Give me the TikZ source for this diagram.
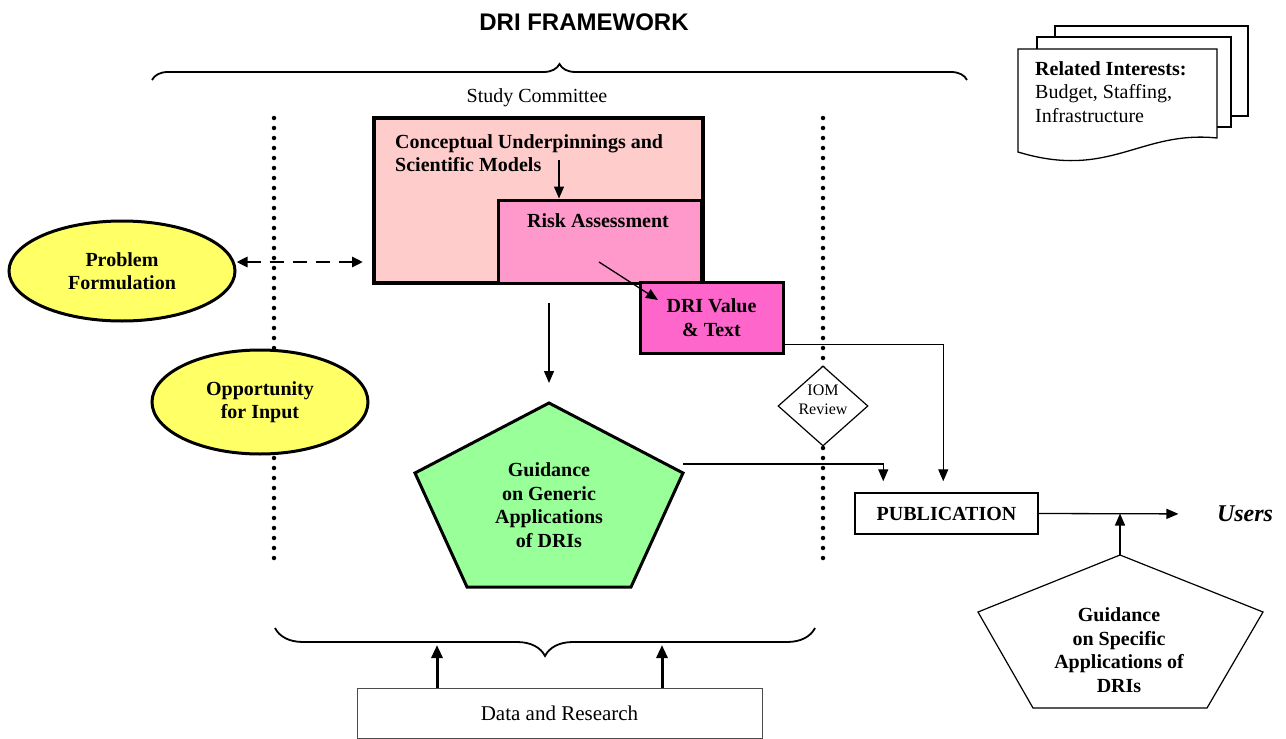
\documentclass[tikz,border=0pt]{standalone}
\usepackage{fontspec}
\setmainfont{Liberation Serif}
\newfontfamily\headfont{Liberation Sans}
\usetikzlibrary{arrows.meta}
\usetikzlibrary{shapes.geometric}
\usetikzlibrary{decorations.pathreplacing}
\usetikzlibrary{calc}

\definecolor{conceptpink}{RGB}{255,204,204}
\definecolor{riskpink}{RGB}{255,153,204}
\definecolor{dripink}{RGB}{255,102,204}
\definecolor{guidegreen}{RGB}{153,255,153}
\definecolor{probyellow}{RGB}{255,255,102}

\begin{document}
\begin{tikzpicture}[x=1pt,y=-1pt,
    lbl/.style={font=\fontsize{20}{23.5}\selectfont\bfseries, align=center, inner sep=0pt},
    box/.style={draw, line width=3pt, inner sep=0pt},
    arr/.style={-{Triangle[length=12pt,width=10pt]}, line width=1.3pt},
    thickarr/.style={-{Triangle[length=13pt,width=11pt]}, line width=3pt},
    dasharr/.style={{Triangle[length=11pt,width=10pt]}-{Triangle[length=11pt,width=10pt]}, line width=2.8pt, dash pattern=on 14pt off 9pt},
    dotline/.style={line width=4.5pt, line cap=round, dash pattern=on 0pt off 10pt},
    bracket/.style={decorate, decoration={brace, amplitude=16pt}, line width=1.8pt}]
    \useasboundingbox (0,0) rectangle (1286,739);

    % Title and committee brace
    \node[font=\headfont\fontsize{24}{27}\selectfont\bfseries] (title) at (584,22) {DRI FRAMEWORK};
    \draw[bracket] (152,80) -- (967,80);
    \node[font=\fontsize{20}{23}\selectfont] (study) at (537,98) {Study Committee};

    % Dotted borders
    \draw[dotline] (274,118) -- (274,560);
    \draw[dotline] (823,118) -- (823,560);

    % Nested boxes
    \node[box, fill=conceptpink, line width=4pt, minimum width=329, minimum height=165] (concept) at (538.5,200.5) {};
    \node[box, fill=riskpink, minimum width=203, minimum height=83] (risk) at (599.5,241.5) {};
    \node[box, fill=dripink, minimum width=143, minimum height=71, lbl] (dri) at (711.5,317.5) {DRI Value\\\& Text};
    \node[lbl, anchor=west, align=left] (concepttext) at (395,153) {Conceptual Underpinnings and\\Scientific Models};
    \node[lbl] (risktext) at (598,221) {Risk Assessment};

    \coordinate (c1) at (559,160);
    \draw[arr] (c1) -- (c1 |- risk.north);
    \coordinate (c2) at (599,262);
    \coordinate (c3) at (658,300);
    \draw[arr] (c2) -- (c3);

    % Generic guidance
    \coordinate (c4) at (549,303);
    \coordinate (c5) at (549,383);
    \draw[arr] (c4) -- (c5);
    \draw[line width=3pt, fill=guidegreen] (549,403) coordinate (gtop) -- (683,473) coordinate (gright) -- (631,587) -- (467,587) -- (415,473) -- cycle;
    \node[lbl] (generic) at (549,505) {Guidance\\on Generic\\Applications\\of DRIs};

    % Review and publication
    \node[diamond, draw, fill=white, line width=1.2pt, minimum width=90, minimum height=80, inner sep=0pt] (iom) at (823,406) {};
    \node[font=\fontsize{16}{19}\selectfont, align=center, inner sep=0pt] (iomtext) at (823,400) {IOM\\Review};
    \node[box, line width=1.5pt, minimum width=183, minimum height=41, lbl] (pub) at (946.5,513.5) {PUBLICATION};
    \node[font=\fontsize{24}{28}\selectfont\bfseries\itshape] (users) at (1245,514) {Users};

    \coordinate (g1) at (683,464);
    \coordinate (p1) at ($(pub.north west)+(29,0)$);
    \draw[arr, shorten >=11pt] (g1) -| (p1);
    \coordinate (c6) at ($(dri.south east)+(0,-10)$);
    \coordinate (p2) at ($(pub.north west)+(89,0)$);
    \draw[arr, shorten >=11pt] (c6) -| (p2);
    \draw[arr, shorten >=35pt] (pub.east) -- (users.west);

    % Specific guidance
    \draw[line width=1.2pt, fill=white] (1120,555) coordinate (stop) -- (1263,612) -- (1207,708) -- (1033,708) -- (978,612) -- cycle;
    \node[lbl] (specific) at (1119,650) {Guidance\\on Specific\\Applications of\\DRIs};
    \draw[arr] (stop) -- (stop |- pub.east);

    % Input ellipses
    \node[ellipse, draw, fill=probyellow, line width=3pt, minimum width=226, minimum height=100, lbl] (prob) at (122,271) {Problem\\Formulation};
    \node[ellipse, draw, fill=probyellow, line width=3pt, minimum width=216, minimum height=104, lbl] (opp) at (260,402) {Opportunity\\for Input};
    \coordinate (d0) at ($(prob.east)+(0,-9)$);
    \draw[dasharr, shorten >=9pt] (d0) -- (d0 -| concept.west);

    % Data and research
    \draw[bracket, decoration={brace, amplitude=28pt}] (815,628) -- (275,628);
    \node[draw=black!70, line width=1pt, minimum width=405, minimum height=50, font=\fontsize{21}{24}\selectfont] (data) at (559.5,713) {Data and Research};
    \coordinate (b1) at (437,645);
    \coordinate (b2) at (662,645);
    \draw[thickarr] (b1 |- data.north) -- (b1);
    \draw[thickarr] (b2 |- data.north) -- (b2);

    % Related interests pages
    \draw[line width=1.3pt, fill=white] (1055,26) rectangle (1248,116);
    \draw[line width=1.3pt, fill=white] (1037,37) rectangle (1231,127);
    \draw[line width=1.3pt, fill=white] (1018,49) -- (1217,49) -- (1217,138) .. controls (1140,130) and (1110,180) .. (1018,152) -- cycle;
    \node[font=\fontsize{20}{23.5}\selectfont, anchor=north west, align=left, inner sep=0pt] (related) at (1035,61) {\textbf{Related Interests:}\\Budget, Staffing,\\Infrastructure};

\end{tikzpicture}
\end{document}
